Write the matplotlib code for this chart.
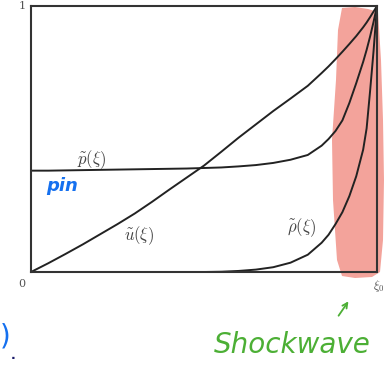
import numpy as np
import matplotlib
matplotlib.use('Agg')
import matplotlib.pyplot as plt
from matplotlib.patches import Polygon, FancyArrowPatch

plt.rcParams['mathtext.fontset'] = 'cm'

# similarity variable xi / xi_0 and the three profiles
xi = [0, .05, .1, .15, .2, .25, .3, .35, .4, .45, .5, .55, .6, .65, .7, .75,
      .8, .84, .86, .88, .9, .92, .94, .96, .97, .98, .99, 1.0]
u_tilde = [0, .033, .068, .104, .142, .18, .22, .264, .31, .355, .40, .452, .505,
           .555, .605, .652, .70, .748, .773, .80, .828, .857, .887, .92, .938,
           .958, .979, 1.0]
p_tilde = [.381, .381, .382, .383, .384, .385, .386, .387, .388, .389, .391, .393,
           .397, .402, .41, .422, .44, .475, .50, .53, .57, .635, .71, .79, .835,
           .885, .94, 1.0]
rho_tilde = [0, 0, 0, 0, 0, 0, 0, 0, 0, 0, 0, .001, .004, .009, .018, .035, .065,
             .11, .14, .18, .225, .285, .36, .46, .54, .68, .83, 1.0]

W, H = 391, 366
fig = plt.figure(figsize=(W / 100, H / 100), dpi=100)
L, R, T, B = 31, 377, 6, 272
ax = fig.add_axes([L / W, 1 - B / H, (R - L) / W, (B - T) / H])
ax.set_xlim(0, 1)
ax.set_ylim(0, 1)
ax.set_xticks([])
ax.set_yticks([])
for s in ax.spines.values():
    s.set_linewidth(1.5)
    s.set_color('#333333')
    s.set_zorder(4)


def px(x, y):
    # pixel of the picture -> axes fraction
    return ((x - L) / (R - L), (B - y) / (B - T))


# red highlighter over the shock region
outline = [(342, 8), (355, 7), (368, 9), (378, 12), (381, 60), (383, 120),
           (384, 180), (383, 240), (380, 272), (372, 277), (355, 278),
           (342, 276), (337, 260), (333, 200), (332, 140), (336, 80), (338, 30)]
ax.add_patch(Polygon([px(*p) for p in outline], closed=True, transform=ax.transAxes,
                     facecolor='#f3a39b', edgecolor='none', clip_on=False, zorder=1))

for y in (u_tilde, p_tilde, rho_tilde):
    ax.plot(xi, y, color='#222222', lw=1.4, zorder=3, solid_capstyle='round',
            solid_joinstyle='round')

lab = dict(transform=ax.transAxes, color='#444444', fontsize=12, ha='center', va='center')
ax.text(*px(92, 160), r'$\tilde{p}(\xi)$', **lab)
ax.text(*px(139, 236), r'$\tilde{u}(\xi)$', **lab)
ax.text(*px(302, 228), r'$\tilde{\rho}(\xi)$', **lab)

tk = dict(color='#555555', fontsize=8, ha='center', va='center', family='DejaVu Serif')
fig.text(22 / W, 1 - 6 / H, '1', **tk)
fig.text(22 / W, 1 - 284 / H, '0', **tk)
fig.text(379 / W, 1 - 286 / H, r'$\xi_0$', color='#555555', fontsize=9, ha='center', va='center')

# handwritten notes
fig.text(62 / W, 1 - 186 / H, 'pin', color='#1570ef', fontsize=13, fontweight='bold',
         style='italic', ha='center', va='center')
fig.text(0, 1 - 337 / H, ')', color='#1570ef', fontsize=20, ha='left', va='center')
fig.text(13 / W, 1 - 359 / H, '.', color='#1a1a6a', fontsize=9, fontweight='bold',
         ha='center', va='baseline')
fig.text(292 / W, 1 - 345 / H, 'Shockwave', color='#4caf35', fontsize=20,
         style='italic', ha='center', va='center')
fig.patches.append(FancyArrowPatch((337 / W, 1 - 318 / H), (350 / W, 1 - 299 / H),
                                   transform=fig.transFigure, arrowstyle='->',
                                   mutation_scale=9, color='#4caf35', lw=1.3))

fig.savefig('out.png', dpi=100)
